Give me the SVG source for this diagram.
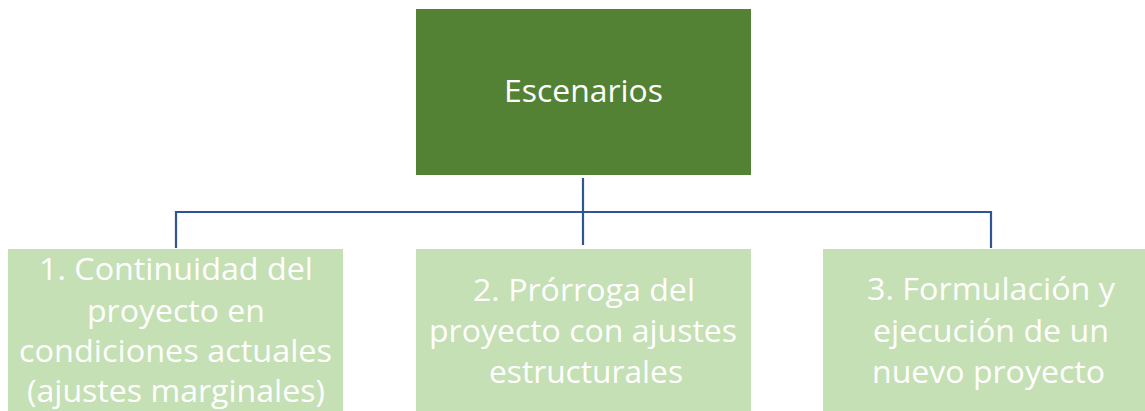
<svg xmlns="http://www.w3.org/2000/svg" width="1145" height="411" viewBox="0 0 1145 411">
<style>
.top{fill:#548235}
.child{fill:#C5E0B4}
.t{fill:#ffffff;font-family:"Open Sans","Liberation Sans",sans-serif;font-size:31px;text-anchor:middle}
.c{fill:none;stroke:#2F5597;stroke-width:2.2}
</style>
<rect width="1145" height="411" fill="#ffffff"/>
<g id="connectors">
<path class="c" d="M583 178 V245"/>
<path class="c" d="M176 248 V212 H991 V248"/>
</g>
<g id="escenarios">
<rect class="top" x="416" y="9" width="335" height="166"/>
<text class="t" x="583.5" y="101.5" textLength="159" lengthAdjust="spacingAndGlyphs">Escenarios</text>
</g>
<g id="escenario1">
<rect class="child" x="8" y="249" width="335" height="170"/>
<text class="t" x="176" y="280" textLength="274" lengthAdjust="spacingAndGlyphs">1. Continuidad del</text>
<text class="t" x="176" y="321.5" textLength="178" lengthAdjust="spacingAndGlyphs">proyecto en</text>
<text class="t" x="175.5" y="361.5" textLength="313" lengthAdjust="spacingAndGlyphs">condiciones actuales</text>
<text class="t" x="176" y="401.5" textLength="298" lengthAdjust="spacingAndGlyphs">(ajustes marginales)</text>
</g>
<g id="escenario2">
<rect class="child" x="416" y="249" width="335" height="170"/>
<text class="t" x="584" y="301" textLength="222" lengthAdjust="spacingAndGlyphs">2. Prórroga del</text>
<text class="t" x="583" y="341.5" textLength="308" lengthAdjust="spacingAndGlyphs">proyecto con ajustes</text>
<text class="t" x="586" y="383" textLength="194" lengthAdjust="spacingAndGlyphs">estructurales</text>
</g>
<g id="escenario3">
<rect class="child" x="823" y="249" width="335" height="170"/>
<text class="t" x="991" y="300" textLength="248" lengthAdjust="spacingAndGlyphs">3. Formulación y</text>
<text class="t" x="991" y="341.5" textLength="236" lengthAdjust="spacingAndGlyphs">ejecución de un</text>
<text class="t" x="988.5" y="382.5" textLength="233" lengthAdjust="spacingAndGlyphs">nuevo proyecto</text>
</g>
</svg>
